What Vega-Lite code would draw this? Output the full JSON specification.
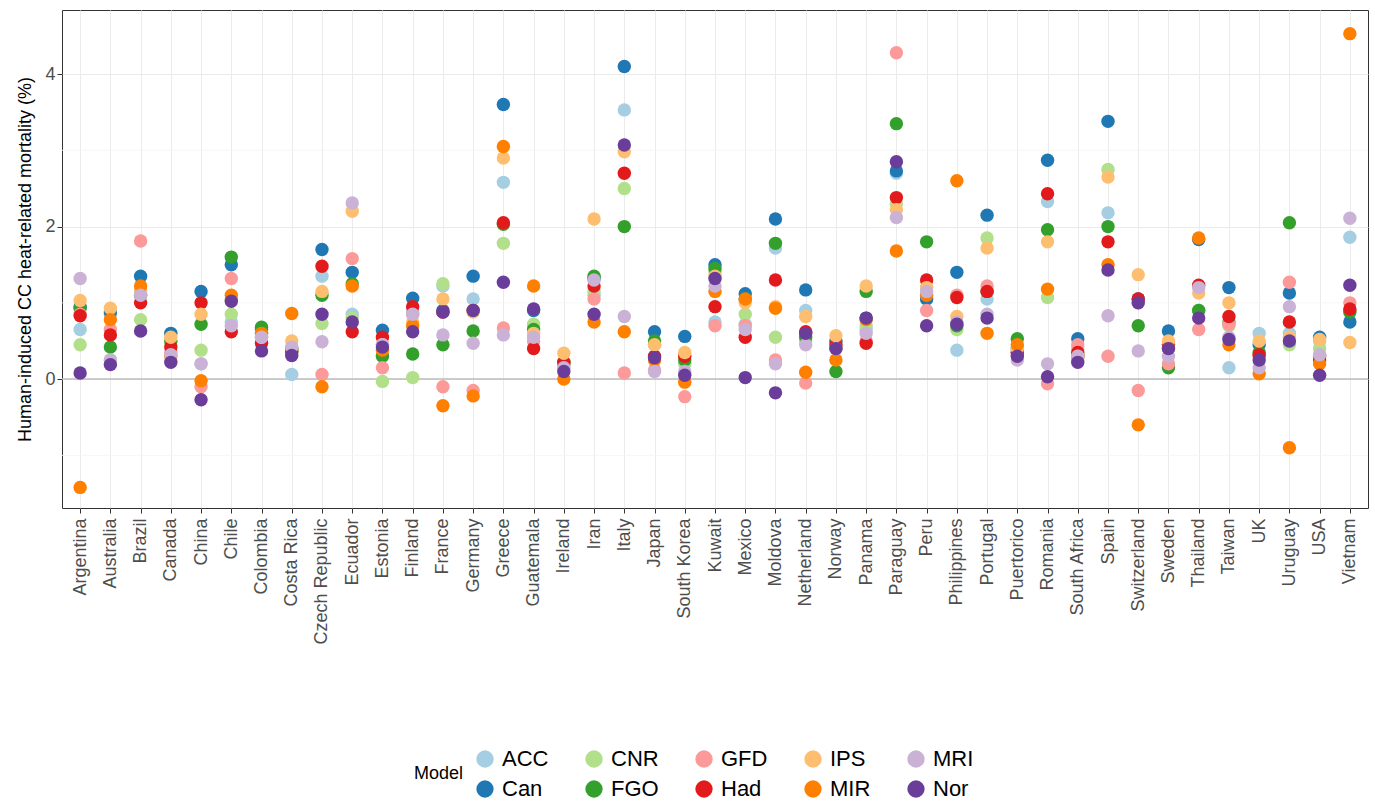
{
  "$schema": "https://vega.github.io/schema/vega-lite/v6.json",
  "autosize": "none",
  "width": 1306,
  "height": 498,
  "padding": {"left": 62, "top": 10, "right": 7, "bottom": 293},
  "background": "white",
  "config": {
    "view": {"stroke": "#333333", "strokeWidth": 1},
    "font": "Liberation Sans"
  },
  "datasets": {
    "minor": [{"y": -1}, {"y": 1}, {"y": 3}],
    "raw": [
      {"c":"Argentina","ACC":0.65,"Can":0.95,"CNR":0.45,"FGO":0.93,"GFD":0.85,"Had":0.83,"IPS":1.03,"MIR":-1.42,"MRI":1.32,"Nor":0.08},
      {"c":"Australia","ACC":0.85,"Can":0.88,"CNR":0.25,"FGO":0.42,"GFD":0.65,"Had":0.58,"IPS":0.93,"MIR":0.78,"MRI":0.25,"Nor":0.19},
      {"c":"Brazil","ACC":1.1,"Can":1.35,"CNR":0.78,"FGO":1.1,"GFD":1.81,"Had":1.0,"IPS":1.15,"MIR":1.22,"MRI":1.1,"Nor":0.63},
      {"c":"Canada","ACC":0.5,"Can":0.6,"CNR":0.45,"FGO":0.5,"GFD":0.35,"Had":0.42,"IPS":0.55,"MIR":0.3,"MRI":0.32,"Nor":0.22},
      {"c":"China","ACC":0.2,"Can":1.15,"CNR":0.38,"FGO":0.72,"GFD":-0.1,"Had":1.0,"IPS":0.85,"MIR":-0.02,"MRI":0.2,"Nor":-0.27},
      {"c":"Chile","ACC":0.75,"Can":1.5,"CNR":0.85,"FGO":1.6,"GFD":1.32,"Had":0.62,"IPS":1.05,"MIR":1.1,"MRI":0.7,"Nor":1.02},
      {"c":"Colombia","ACC":0.6,"Can":0.65,"CNR":0.6,"FGO":0.68,"GFD":0.55,"Had":0.47,"IPS":0.55,"MIR":0.6,"MRI":0.55,"Nor":0.37},
      {"c":"Costa Rica","ACC":0.06,"Can":0.4,"CNR":0.35,"FGO":0.38,"GFD":0.4,"Had":0.36,"IPS":0.5,"MIR":0.86,"MRI":0.42,"Nor":0.31},
      {"c":"Czech Republic","ACC":1.35,"Can":1.7,"CNR":0.73,"FGO":1.1,"GFD":0.06,"Had":1.48,"IPS":1.15,"MIR":-0.1,"MRI":0.49,"Nor":0.85},
      {"c":"Ecuador","ACC":0.85,"Can":1.4,"CNR":0.8,"FGO":1.25,"GFD":1.58,"Had":0.62,"IPS":2.2,"MIR":1.22,"MRI":2.31,"Nor":0.75},
      {"c":"Estonia","ACC":0.45,"Can":0.64,"CNR":-0.03,"FGO":0.3,"GFD":0.15,"Had":0.55,"IPS":0.45,"MIR":0.38,"MRI":0.45,"Nor":0.42},
      {"c":"Finland","ACC":0.9,"Can":1.06,"CNR":0.02,"FGO":0.33,"GFD":0.85,"Had":0.95,"IPS":0.75,"MIR":0.7,"MRI":0.85,"Nor":0.62},
      {"c":"France","ACC":1.22,"Can":0.9,"CNR":1.25,"FGO":0.45,"GFD":-0.1,"Had":0.88,"IPS":1.05,"MIR":-0.35,"MRI":0.58,"Nor":0.88},
      {"c":"Germany","ACC":1.05,"Can":1.35,"CNR":0.9,"FGO":0.63,"GFD":-0.15,"Had":0.9,"IPS":0.88,"MIR":-0.22,"MRI":0.47,"Nor":0.9},
      {"c":"Greece","ACC":2.58,"Can":3.6,"CNR":1.78,"FGO":2.03,"GFD":0.67,"Had":2.05,"IPS":2.9,"MIR":3.05,"MRI":0.58,"Nor":1.27},
      {"c":"Guatemala","ACC":0.7,"Can":0.9,"CNR":0.72,"FGO":0.65,"GFD":0.5,"Had":0.4,"IPS":0.6,"MIR":1.22,"MRI":0.55,"Nor":0.92},
      {"c":"Ireland","ACC":0.15,"Can":0.2,"CNR":0.2,"FGO":0.22,"GFD":0.2,"Had":0.22,"IPS":0.34,"MIR":0.0,"MRI":0.15,"Nor":0.1},
      {"c":"Iran","ACC":1.1,"Can":1.32,"CNR":1.15,"FGO":1.35,"GFD":1.05,"Had":1.22,"IPS":2.1,"MIR":0.75,"MRI":1.3,"Nor":0.85},
      {"c":"Italy","ACC":3.53,"Can":4.1,"CNR":2.5,"FGO":2.0,"GFD":0.08,"Had":2.7,"IPS":2.98,"MIR":0.62,"MRI":0.82,"Nor":3.07},
      {"c":"Japan","ACC":0.45,"Can":0.62,"CNR":0.45,"FGO":0.5,"GFD":0.12,"Had":0.3,"IPS":0.45,"MIR":0.25,"MRI":0.1,"Nor":0.28},
      {"c":"South Korea","ACC":0.2,"Can":0.56,"CNR":0.2,"FGO":0.25,"GFD":-0.23,"Had":0.3,"IPS":0.35,"MIR":-0.04,"MRI":0.1,"Nor":0.05},
      {"c":"Kuwait","ACC":0.75,"Can":1.5,"CNR":1.4,"FGO":1.45,"GFD":0.7,"Had":0.95,"IPS":1.35,"MIR":1.15,"MRI":1.22,"Nor":1.32},
      {"c":"Mexico","ACC":0.72,"Can":1.12,"CNR":0.85,"FGO":1.05,"GFD":0.7,"Had":0.55,"IPS":1.0,"MIR":1.05,"MRI":0.65,"Nor":0.02},
      {"c":"Moldova","ACC":1.72,"Can":2.1,"CNR":0.55,"FGO":1.78,"GFD":0.25,"Had":1.3,"IPS":0.95,"MIR":0.93,"MRI":0.2,"Nor":-0.18},
      {"c":"Netherland","ACC":0.9,"Can":1.17,"CNR":0.5,"FGO":0.55,"GFD":-0.05,"Had":0.62,"IPS":0.82,"MIR":0.09,"MRI":0.45,"Nor":0.6},
      {"c":"Norway","ACC":0.5,"Can":0.5,"CNR":0.45,"FGO":0.1,"GFD":0.4,"Had":0.45,"IPS":0.57,"MIR":0.25,"MRI":0.4,"Nor":0.4},
      {"c":"Panama","ACC":0.65,"Can":0.8,"CNR":0.7,"FGO":1.15,"GFD":0.5,"Had":0.47,"IPS":1.22,"MIR":0.78,"MRI":0.6,"Nor":0.8},
      {"c":"Paraguay","ACC":2.7,"Can":2.73,"CNR":2.3,"FGO":3.35,"GFD":4.28,"Had":2.38,"IPS":2.22,"MIR":1.68,"MRI":2.12,"Nor":2.85},
      {"c":"Peru","ACC":1.05,"Can":1.05,"CNR":1.2,"FGO":1.8,"GFD":0.9,"Had":1.3,"IPS":1.2,"MIR":1.1,"MRI":1.15,"Nor":0.7},
      {"c":"Philippines","ACC":0.38,"Can":1.4,"CNR":0.65,"FGO":0.7,"GFD":1.1,"Had":1.07,"IPS":0.82,"MIR":2.6,"MRI":0.75,"Nor":0.72},
      {"c":"Portugal","ACC":1.05,"Can":2.15,"CNR":1.85,"FGO":1.15,"GFD":1.22,"Had":1.15,"IPS":1.72,"MIR":0.6,"MRI":0.85,"Nor":0.8},
      {"c":"Puertorico","ACC":0.35,"Can":0.4,"CNR":0.4,"FGO":0.53,"GFD":0.35,"Had":0.35,"IPS":0.4,"MIR":0.45,"MRI":0.25,"Nor":0.3},
      {"c":"Romania","ACC":2.33,"Can":2.87,"CNR":1.07,"FGO":1.96,"GFD":-0.06,"Had":2.43,"IPS":1.8,"MIR":1.18,"MRI":0.2,"Nor":0.03},
      {"c":"South Africa","ACC":0.4,"Can":0.53,"CNR":0.3,"FGO":0.3,"GFD":0.45,"Had":0.35,"IPS":0.28,"MIR":0.3,"MRI":0.3,"Nor":0.22},
      {"c":"Spain","ACC":2.18,"Can":3.38,"CNR":2.75,"FGO":2.0,"GFD":0.3,"Had":1.8,"IPS":2.65,"MIR":1.5,"MRI":0.83,"Nor":1.43},
      {"c":"Switzerland","ACC":1.05,"Can":1.05,"CNR":1.0,"FGO":0.7,"GFD":-0.15,"Had":1.05,"IPS":1.37,"MIR":-0.6,"MRI":0.37,"Nor":1.0},
      {"c":"Sweden","ACC":0.45,"Can":0.63,"CNR":0.4,"FGO":0.15,"GFD":0.2,"Had":0.45,"IPS":0.5,"MIR":0.4,"MRI":0.3,"Nor":0.4},
      {"c":"Thailand","ACC":0.9,"Can":1.83,"CNR":0.9,"FGO":0.9,"GFD":0.65,"Had":1.23,"IPS":1.13,"MIR":1.85,"MRI":1.2,"Nor":0.8},
      {"c":"Taiwan","ACC":0.15,"Can":1.2,"CNR":0.7,"FGO":0.75,"GFD":0.72,"Had":0.82,"IPS":1.0,"MIR":0.45,"MRI":0.55,"Nor":0.52},
      {"c":"UK","ACC":0.6,"Can":0.45,"CNR":0.3,"FGO":0.35,"GFD":0.3,"Had":0.32,"IPS":0.5,"MIR":0.07,"MRI":0.15,"Nor":0.25},
      {"c":"Uruguay","ACC":0.6,"Can":1.13,"CNR":0.45,"FGO":2.05,"GFD":1.27,"Had":0.75,"IPS":0.55,"MIR":-0.9,"MRI":0.95,"Nor":0.5},
      {"c":"USA","ACC":0.5,"Can":0.55,"CNR":0.4,"FGO":0.3,"GFD":0.3,"Had":0.25,"IPS":0.52,"MIR":0.2,"MRI":0.32,"Nor":0.05},
      {"c":"Vietnam","ACC":1.86,"Can":0.75,"CNR":0.9,"FGO":0.88,"GFD":1.0,"Had":0.92,"IPS":0.48,"MIR":4.53,"MRI":2.11,"Nor":1.23}
    ]
  },
  "data": {"name": "raw"},
  "encoding": {
    "x": {
      "field": "c", "type": "nominal", "sort": null,
      "scale": {"type": "point", "padding": 0.6},
      "axis": {"title": null, "labelAngle": -90, "labelFontSize": 18, "labelColor": "#4d4d4d",
               "grid": true, "gridColor": "#ebebeb", "tickColor": "#333", "domain": false,
               "labelPadding": 5, "labelBaseline": "middle"}
    }
  },
  "layer": [
    {
      "data": {"name": "minor"},
      "mark": {"type": "rule", "color": "#f4f4f4", "strokeWidth": 0.8},
      "encoding": {"x": null, "y": {"field": "y", "type": "quantitative"}}
    },
    {
      "data": {"values": [{"y": 0}]},
      "mark": {"type": "rule", "color": "#bdbdbd", "strokeWidth": 1.5},
      "encoding": {"x": null, "y": {"field": "y", "type": "quantitative"}}
    },
    {
      "transform": [
        {"fold": ["ACC", "Can", "CNR", "FGO", "GFD", "Had", "IPS", "MIR", "MRI", "Nor"], "as": ["Model", "v"]}
      ],
      "mark": {"type": "circle", "size": 180, "opacity": 1},
      "encoding": {
        "y": {
          "field": "v", "type": "quantitative",
          "scale": {"domain": [-1.69, 4.84], "nice": false, "zero": false},
          "axis": {"title": "Human-induced CC heat-related mortality (%)", "titleFontSize": 18,
                   "titleFontWeight": "normal", "titleColor": "#000", "values": [0, 2, 4], "format": "d",
                   "labelFontSize": 18, "labelColor": "#4d4d4d", "gridColor": "#ebebeb",
                   "domain": false, "tickColor": "#333", "titlePadding": 10}
        },
        "color": {
          "field": "Model", "type": "nominal",
          "scale": {
            "domain": ["ACC", "CNR", "GFD", "IPS", "MRI", "Can", "FGO", "Had", "MIR", "Nor"],
            "range": ["#a6cee3", "#b2df8a", "#fb9a99", "#fdbf6f", "#cab2d6", "#1f78b4", "#33a02c", "#e31a1c", "#ff7f00", "#6a3d9a"]
          },
          "legend": {
            "orient": "none", "legendX": 352, "legendY": 738, "direction": "horizontal",
            "columns": 5, "title": "Model", "titleOrient": "left", "titleFontSize": 18,
            "titleFontWeight": "normal", "titleColor": "#000", "titleAnchor": "middle", "titlePadding": 10,
            "labelFontSize": 22, "labelColor": "#000", "symbolSize": 300, "symbolType": "circle",
            "columnPadding": 34, "rowPadding": 8, "labelLimit": 100, "labelOffset": 6
          }
        }
      }
    }
  ]
}
